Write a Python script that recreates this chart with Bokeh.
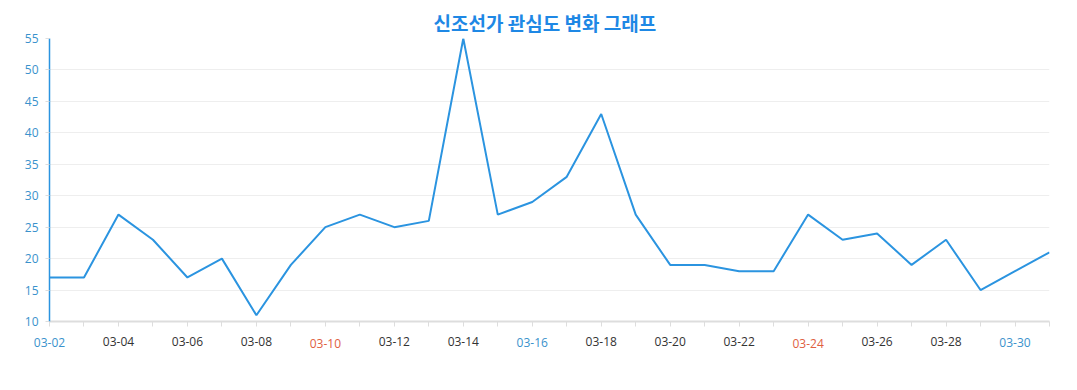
from bokeh.plotting import figure
from bokeh.models import ColumnDataSource, FixedTicker, LinearAxis, Range1d, Title
from bokeh.embed import file_html
from bokeh.resources import INLINE

dates = ["03-02", "03-03", "03-04", "03-05", "03-06", "03-07", "03-08", "03-09", "03-10", "03-11",
         "03-12", "03-13", "03-14", "03-15", "03-16", "03-17", "03-18", "03-19", "03-20", "03-21",
         "03-22", "03-23", "03-24", "03-25", "03-26", "03-27", "03-28", "03-29", "03-30", "03-31"]
interest = [17, 17, 27, 23, 17, 20, 11, 19, 25, 27,
            25, 26, 55, 27, 29, 33, 43, 27, 19, 19,
            18, 18, 27, 23, 24, 19, 23, 15, 18, 21]
y_ticks = [10, 15, 20, 25, 30, 35, 40, 45, 50, 55]
blue_dates = ["03-02", "03-16", "03-30"]
red_dates = ["03-10", "03-24"]

BLUE_LABEL = "#3a92cc"
RED_LABEL = "#e0603f"
DARK = "#333333"

idx = list(range(len(dates)))
src = ColumnDataSource(dict(x=idx, y=interest))

p = figure(width=1061, height=374, output_backend="svg", toolbar_location=None,
           x_range=Range1d(0, len(dates) - 1), y_range=Range1d(10, 55),
           min_border_left=49, min_border_right=12, min_border_top=38, min_border_bottom=53)
p.outline_line_color = None
p.background_fill_color = "white"

t = Title(text="신조선가 관심도 변화 그래프", align="left",
          text_font="Noto Sans CJK KR", text_font_size="19px", text_font_style="bold",
          text_color="#1e88e5", offset=384, standoff=6)
p.add_layout(t, "above")

p.line("x", "y", source=src, line_color="#2b94e0", line_width=2)

# y axis
p.yaxis.ticker = FixedTicker(ticks=y_ticks)
p.yaxis.axis_line_color = "#2b94e0"
p.yaxis.axis_line_width = 1.5
p.yaxis.major_tick_line_color = "#dddddd"
p.yaxis.major_tick_out = 4
p.yaxis.major_tick_in = 0
p.yaxis.minor_tick_line_color = None
p.yaxis.major_label_text_color = BLUE_LABEL
p.yaxis.major_label_text_font = "Open Sans"
p.yaxis.major_label_text_font_size = "12px"
p.yaxis.major_label_standoff = 7

label_idx = [i for i in idx if i % 2 == 0]
dark_idx = [i for i in label_idx if dates[i] not in blue_dates + red_dates]
blue_idx = [i for i in label_idx if dates[i] in blue_dates]
red_idx = [i for i in label_idx if dates[i] in red_dates]

# main x axis: tick marks every day, dark labels on every second day
xa = p.xaxis[0]
xa.ticker = FixedTicker(ticks=idx)
xa.major_label_overrides = {i: (dates[i] if i in dark_idx else "") for i in idx}
xa.axis_line_color = "#dddddd"
xa.axis_line_width = 2
xa.major_tick_line_color = "#dddddd"
xa.major_tick_out = 5
xa.major_tick_in = 0
xa.minor_tick_line_color = None
xa.major_label_standoff = 10
xa.major_label_text_color = DARK
xa.major_label_text_font = "Open Sans"
xa.major_label_text_font_size = "12px"

# coloured labels: extra axes pulled back onto the main label row
for ticks, color in [(blue_idx, BLUE_LABEL), (red_idx, RED_LABEL)]:
    ax = LinearAxis(ticker=FixedTicker(ticks=ticks),
                    major_label_overrides={i: dates[i] for i in ticks})
    ax.axis_line_color = None
    ax.major_tick_line_color = None
    ax.minor_tick_line_color = None
    ax.major_tick_out = 0
    ax.major_tick_in = 0
    ax.major_label_standoff = -11
    ax.major_label_text_color = color
    ax.major_label_text_font = "Open Sans"
    ax.major_label_text_font_size = "12px"
    p.add_layout(ax, "below")

p.xgrid.grid_line_color = None
p.ygrid.ticker = FixedTicker(ticks=y_ticks)
p.ygrid.grid_line_color = "#eeeeee"

open("out.html", "w").write(file_html(p, INLINE))
